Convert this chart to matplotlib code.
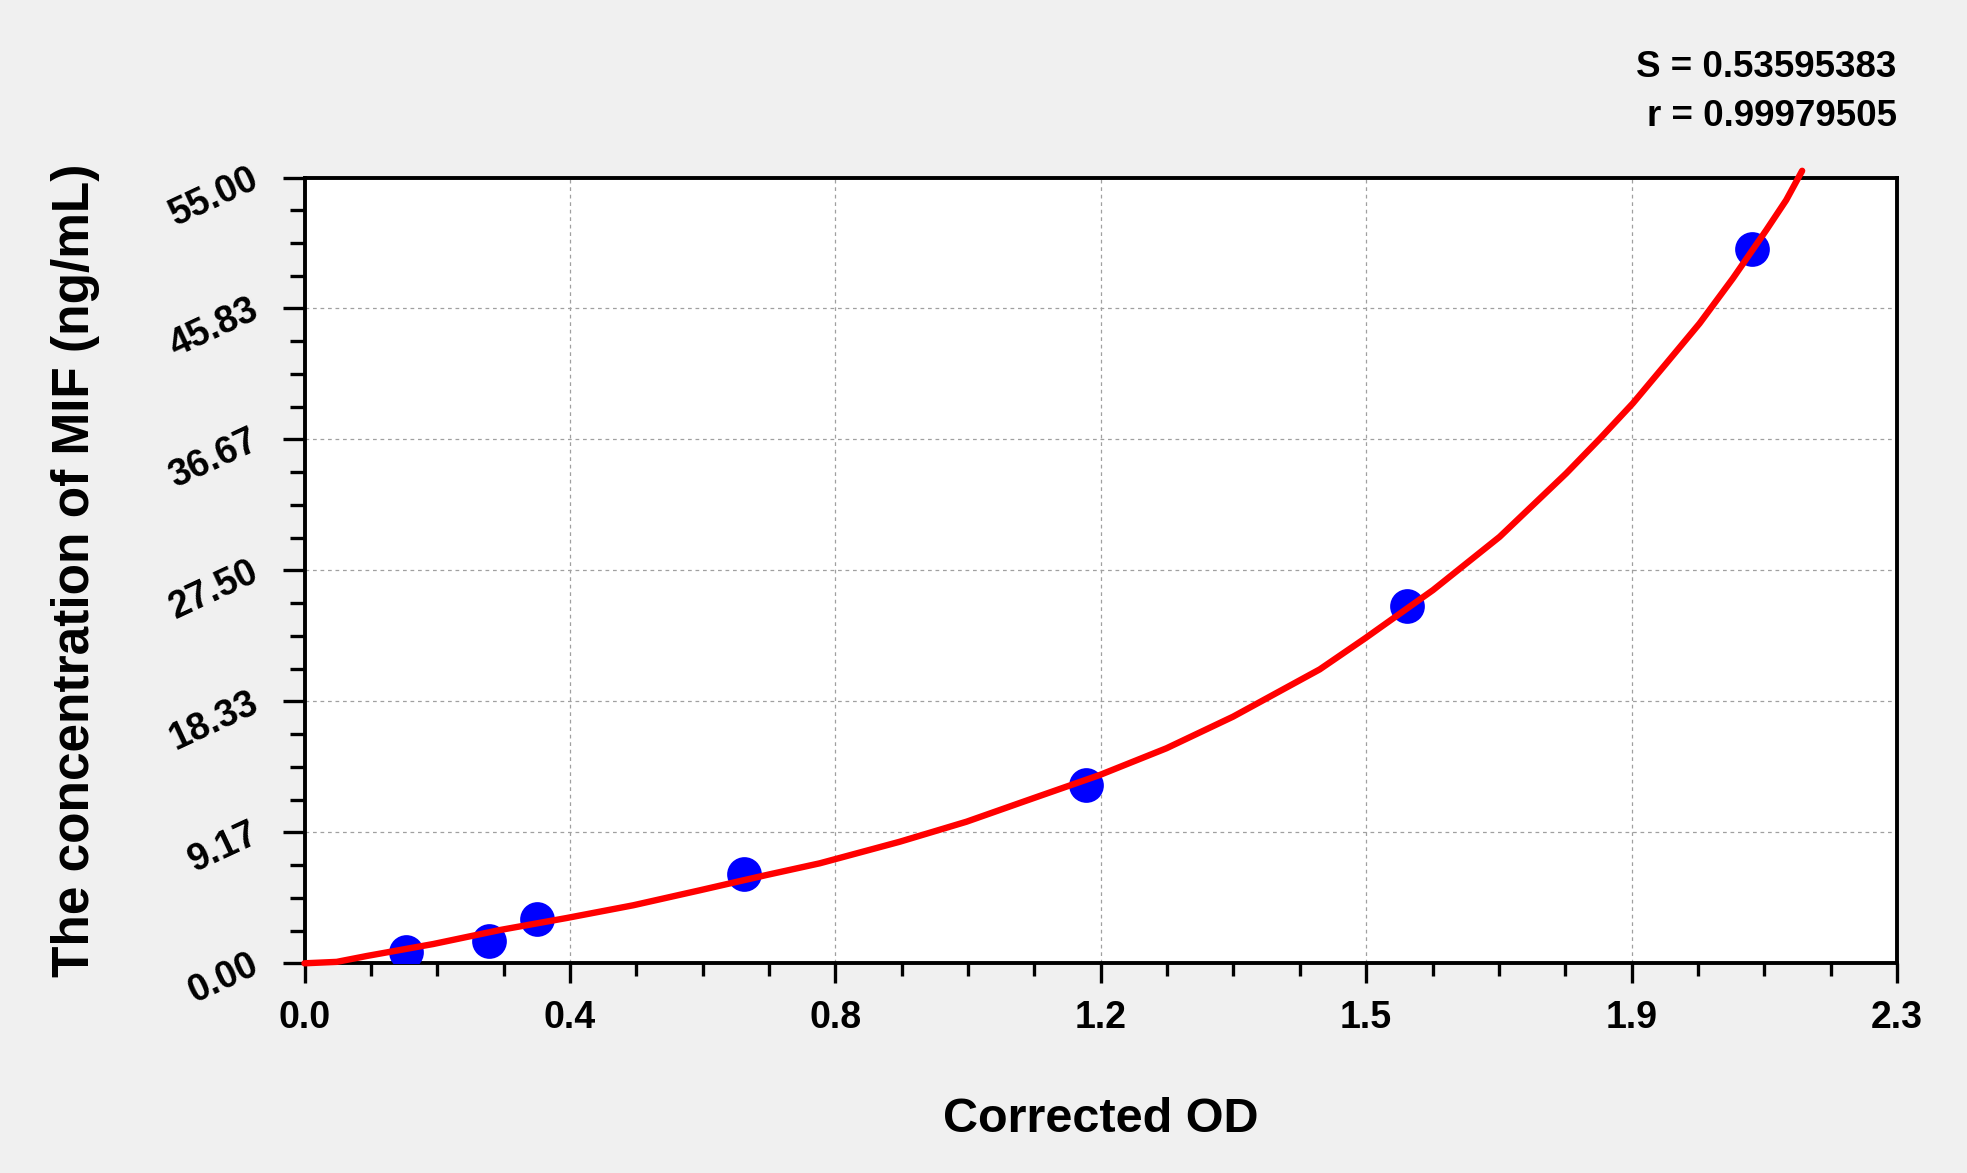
import matplotlib
matplotlib.use("Agg")
import matplotlib.pyplot as plt
from matplotlib.ticker import AutoMinorLocator, FixedLocator

plt.rcParams['font.family'] = ['Liberation Sans', 'DejaVu Sans']
plt.rcParams['font.weight'] = 'bold'

# ---- data ----
od_values = [0.147, 0.267, 0.336, 0.635, 1.129, 1.592, 2.091]
conc_values = [0.78, 1.56, 3.12, 6.25, 12.5, 25.0, 50.0]

curve_od = [0.0, 0.0465, 0.0898, 0.186, 0.2823, 0.3786, 0.4747, 0.571, 0.6673,
            0.7443, 0.8598, 0.9561, 1.0523, 1.1486, 1.2449, 1.341, 1.4662,
            1.5316, 1.6298, 1.7261, 1.8224, 1.8705, 1.9186, 1.9668, 2.0149,
            2.063, 2.1112, 2.140, 2.163]
curve_conc = [0.0, 0.1, 0.51, 1.35, 2.33, 3.17, 4.06, 5.11, 6.18,
              7.0, 8.51, 9.91, 11.55, 13.18, 15.05, 17.26, 20.57,
              22.74, 26.12, 29.85, 34.3, 36.7, 39.2, 41.99, 44.79,
              47.94, 51.32, 53.42, 55.47]

x_ticks = [0.0, 2.3 / 6, 2 * 2.3 / 6, 3 * 2.3 / 6, 4 * 2.3 / 6, 5 * 2.3 / 6, 2.3]
x_tick_labels = ["0.0", "0.4", "0.8", "1.2", "1.5", "1.9", "2.3"]
y_ticks = [0.0, 55 / 6, 2 * 55 / 6, 3 * 55 / 6, 4 * 55 / 6, 5 * 55 / 6, 55.0]
y_tick_labels = ["0.00", "9.17", "18.33", "27.50", "36.67", "45.83", "55.00"]

s_text = "S = 0.53595383"
r_text = "r = 0.99979505"
x_label = "Corrected OD"
y_label = "The concentration of MIF (ng/mL)"

# ---- figure ----
W, H = 1967, 1173
fig = plt.figure(figsize=(W / 100, H / 100), dpi=100, facecolor='#f0f0f0')
left, right, top, bottom = 304.5, 1897.0, 177.5, 963.3
ax = fig.add_axes([left / W, 1 - bottom / H, (right - left) / W, (bottom - top) / H])
ax.set_facecolor('white')

ax.set_xlim(0, 2.3)
ax.set_ylim(0, 55)

ax.grid(True, which='major', color='#a0a0a0', linestyle=(0, (3, 3)), linewidth=0.9)
ax.set_axisbelow(True)

ax.plot(od_values, conc_values, 'o', color='#0000ff', markersize=25,
        markeredgewidth=0, zorder=3)
ax.plot(curve_od, curve_conc, '-', color='#ff0000', linewidth=4.6,
        solid_capstyle='round', solid_joinstyle='round', zorder=4, clip_on=False)

for sp in ax.spines.values():
    sp.set_linewidth(2.8)
    sp.set_color('black')

ax.xaxis.set_major_locator(FixedLocator(x_ticks))
ax.yaxis.set_major_locator(FixedLocator(y_ticks))
ax.set_xticklabels(x_tick_labels)
ax.set_yticklabels(y_tick_labels)
ax.xaxis.set_minor_locator(AutoMinorLocator(4))
ax.yaxis.set_minor_locator(AutoMinorLocator(4))

ax.tick_params(axis='x', which='major', direction='out', length=14.4, width=2.4,
               pad=12, labelsize=27)
ax.tick_params(axis='x', which='minor', direction='out', length=9.4, width=2.4)
ax.tick_params(axis='y', which='major', direction='out', length=15.8, width=2.4,
               pad=19, labelsize=27)
ax.tick_params(axis='y', which='minor', direction='out', length=10.8, width=2.4)

for lab in ax.get_yticklabels():
    lab.set_rotation(25)
    lab.set_rotation_mode('anchor')
    lab.set_ha('right')
    lab.set_va('center')
    lab.set_fontweight('bold')
for lab in ax.get_xticklabels():
    lab.set_fontweight('bold')

fig.text(1100.8 / W, 1 - 1131.7 / H, x_label, fontsize=35, fontweight='bold',
         ha='center', va='baseline')
fig.text(89.3 / W, 1 - 570.4 / H, y_label, fontsize=37, fontweight='bold',
         rotation=90, rotation_mode='anchor', ha='center', va='baseline')

fig.text(1896.7 / W, 1 - 77.3 / H, s_text, fontsize=26.5, fontweight='bold',
         ha='right', va='baseline')
fig.text(1896.7 / W, 1 - 126.0 / H, r_text, fontsize=26.5, fontweight='bold',
         ha='right', va='baseline')

fig.savefig('out.png', dpi=100, facecolor=fig.get_facecolor())
